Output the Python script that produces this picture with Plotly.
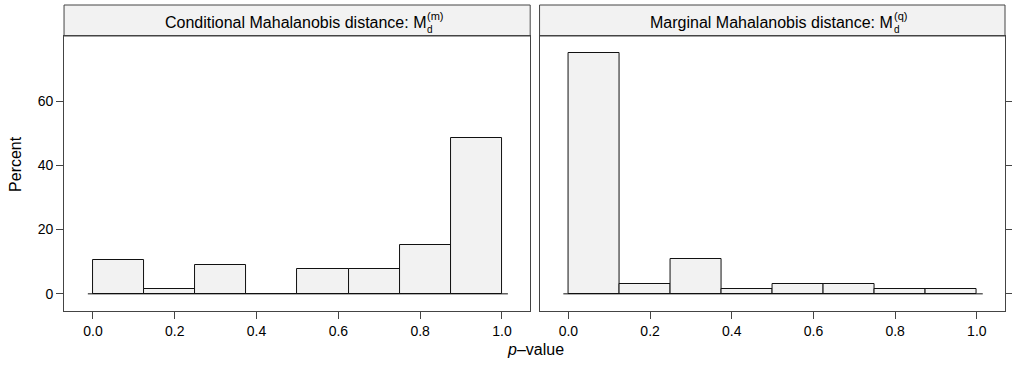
import plotly.graph_objects as go

W, H = 1012, 369

# ---- data ----
bin_edges = [0.0, 0.125, 0.25, 0.375, 0.5, 0.625, 0.75, 0.875, 1.0]
conditional_pct = [10.6, 1.5, 9.0, 0.0, 7.6, 7.6, 15.2, 48.5]
marginal_pct = [75.0, 3.1, 10.9, 1.6, 3.1, 3.1, 1.6, 1.6]
x_ticks = [0.0, 0.2, 0.4, 0.6, 0.8, 1.0]
x_tick_labels = ["0.0", "0.2", "0.4", "0.6", "0.8", "1.0"]
y_ticks = [0, 20, 40, 60]
y_tick_labels = ["0", "20", "40", "60"]
panel_titles = ["Conditional Mahalanobis distance: M", "Marginal Mahalanobis distance: M"]
panel_sups = ["(m)", "(q)"]

FONT = "Liberation Sans, Arial, Helvetica, sans-serif"
BORDER = "#444444"
FILL = "#f2f2f2"

def px(x):
    return x / W

def py(y):
    return 1 - y / H

centers = [(a + b) / 2 for a, b in zip(bin_edges[:-1], bin_edges[1:])]
widths = [b - a for a, b in zip(bin_edges[:-1], bin_edges[1:])]

fig = go.Figure()
for i, vals in enumerate([conditional_pct, marginal_pct]):
    fig.add_trace(go.Bar(
        x=centers, y=vals, width=widths,
        marker=dict(color=FILL, line=dict(color="#111111", width=1)),
        xaxis="x" if i == 0 else "x2", yaxis="y" if i == 0 else "y2",
        showlegend=False, hoverinfo="x+y",
    ))

left_dom = [px(64.3), px(532.3)]
right_dom = [px(541.7), px(1009)]
y_dom = [py(310.7), py(36)]
strip_top = py(5)

xr = [-0.0707, 1.069]
yr = [-5.25, 80.25]

axis_common = dict(showline=True, linecolor=BORDER, linewidth=1, mirror=True,
                   showgrid=False, zeroline=False, ticks="outside", ticklen=7,
                   tickcolor=BORDER, tickwidth=1,
                   tickfont=dict(family=FONT, size=14, color="#000"))

fig.update_layout(
    width=W, height=H, margin=dict(l=0, r=0, t=0, b=0),
    paper_bgcolor="white", plot_bgcolor="white",
    bargap=0,
    xaxis=dict(domain=left_dom, range=xr, tickvals=x_ticks, ticktext=x_tick_labels,
               anchor="y", **axis_common),
    xaxis2=dict(domain=right_dom, range=xr, tickvals=x_ticks, ticktext=x_tick_labels,
                anchor="y2", **axis_common),
    yaxis=dict(domain=y_dom, range=yr, tickvals=y_ticks, ticktext=y_tick_labels,
               anchor="x", side="left", **axis_common),
    yaxis2=dict(domain=y_dom, range=yr, tickvals=y_ticks, ticktext=y_tick_labels,
                anchor="x2", side="right", showticklabels=False, **axis_common),
)

shapes = []
annotations = []
# baselines at zero
for xa, ya in [("x", "y"), ("x2", "y2")]:
    shapes.append(dict(type="line", xref=xa, yref=ya, x0=-0.0125, x1=1.0145, y0=0, y1=0,
                       line=dict(color="#111111", width=1)))

# strips
for k, dom in enumerate([left_dom, right_dom]):
    shapes.append(dict(type="rect", xref="paper", yref="paper",
                       x0=dom[0], x1=dom[1], y0=y_dom[1], y1=strip_top,
                       fillcolor=FILL, line=dict(color=BORDER, width=1), layer="below"))

title_right_px = [429.0, 898.0]
for k in range(2):
    xr_px = title_right_px[k]
    annotations.append(dict(text=panel_titles[k], xref="paper", yref="paper",
                            x=px(xr_px), y=py(22.5), xanchor="right", yanchor="middle",
                            borderpad=0, showarrow=False,
                            font=dict(family=FONT, size=16, color="#000")))
    annotations.append(dict(text="d", xref="paper", yref="paper",
                            x=px(xr_px - 1.5), y=py(29.5), xanchor="left", yanchor="middle",
                            borderpad=0, showarrow=False,
                            font=dict(family=FONT, size=10, color="#000")))
    annotations.append(dict(text=panel_sups[k], xref="paper", yref="paper",
                            x=px(xr_px - 1.5), y=py(16.5), xanchor="left", yanchor="middle",
                            borderpad=0, showarrow=False,
                            font=dict(family=FONT, size=11, color="#000")))

annotations.append(dict(text="<i>p</i>\u2013value", xref="paper", yref="paper",
                        x=px(538), y=py(349), xanchor="center", yanchor="middle",
                        showarrow=False, font=dict(family=FONT, size=16, color="#000")))
annotations.append(dict(text="Percent", xref="paper", yref="paper",
                        x=px(15), y=py(164), xanchor="center", yanchor="middle", textangle=-90,
                        showarrow=False, font=dict(family=FONT, size=16, color="#000")))

fig.update_layout(shapes=shapes, annotations=annotations)
fig.write_html("out.html")
